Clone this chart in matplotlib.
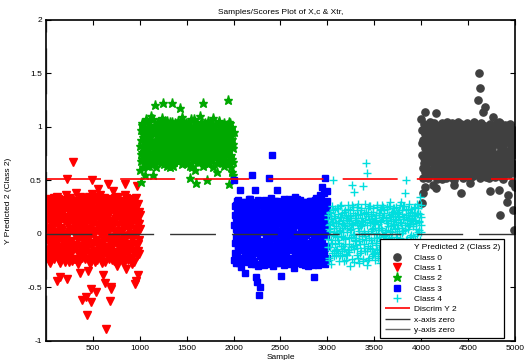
import numpy as np
import matplotlib
matplotlib.use("Agg")
import matplotlib.pyplot as plt
from matplotlib.lines import Line2D

plt.rcParams['font.family'] = ['Liberation Sans', 'DejaVu Sans']

# Predicted Y values per class.
# y_cN: one value every 5 samples (with the outliers), y_cN_b: the dense core in between
start_c0, start_c1, start_c2, start_c3, start_c4 = 4000, 0, 1000, 2000, 3000
step = 5

y_c1 = [
    0.12, -0.18, 0.25, 0.03, -0.22, 0.31, -0.08, 0.17, -0.27, 0.06, 0.29, -0.14, 0.21, -0.03, 0.10, -0.20, 0.34, -0.11, 0.01, 0.19,
    -0.06, 0.27, 0.14, -0.44, 0.33, -0.16, 0.08, -0.24, 0.22, -0.02, -0.40, 0.18, -0.12, 0.30, 0.04, -0.19, 0.26, -0.09, 0.13, -0.26,
    0.24, -0.05, 0.36, -0.17, -0.42, 0.51, 0.09, -0.21, 0.28, 0.02, -0.13, 0.32, -0.07, 0.15, -0.25, 0.20, 0.05, -0.15, 0.67, 0.11,
    -0.10, 0.26, -0.23, 0.18, 0.38, -0.04, 0.12, -0.28, 0.30, 0.07, -0.18, 0.23, -0.36, 0.00, 0.34, -0.12, -0.62, 0.16, -0.06, 0.27,
    0.21, -0.20, 0.08, 0.33, -0.11, -0.59, 0.25, -0.76, -0.35, 0.14, -0.02, 0.29, -0.24, 0.05, 0.19, -0.64, -0.51, 0.37, 0.50, -0.08,
    0.10, -0.16, 0.31, -0.26, 0.22, 0.03, -0.54, 0.17, -0.09, 0.35, 0.42, -0.21, 0.06, 0.26, -0.13, 0.13, -0.01, 0.28, -0.27, 0.20,
    -0.38, 0.24, -0.07, 0.16, -0.19, 0.32, -0.46, -0.89, 0.09, -0.14, 0.27, 0.01, 0.47, -0.23, 0.19, -0.04, -0.63, -0.51, -0.50, 0.12,
    0.29, -0.12, 0.40, 0.07, -0.25, 0.21, -0.03, 0.34, -0.17, 0.14, -0.30, 0.25, 0.02, -0.10, 0.31, -0.21, 0.18, -0.06, 0.23, -0.15,
    -0.20, 0.15, 0.30, -0.08, 0.22, -0.27, 0.06, 0.36, 0.47, -0.14, 0.11, -0.33, 0.26, -0.02, 0.18, -0.18, 0.33, 0.04, -0.11, 0.20,
    0.08, -0.22, 0.27, -0.05, 0.19, -0.16, 0.32, 0.00, -0.26, 0.13, -0.47, 0.24, -0.44, 0.10, 0.45, -0.09, -0.38, 0.21, -0.19, 0.05,
]
y_c1_b = [
    0.05, 0.28, -0.15, 0.20, -0.04, 0.13, -0.25, 0.33, 0.00, -0.10, 0.24, 0.09, -0.19, 0.16, -0.01, 0.30, -0.23, 0.07, 0.26, -0.13,
    0.18, -0.09, 0.35, -0.20, 0.02, 0.23, -0.12, 0.11, -0.27, 0.29, 0.06, -0.05, 0.20, -0.22, 0.15, 0.32, -0.15, 0.00, 0.25, -0.03,
    -0.21, 0.16, -0.02, 0.30, -0.12, 0.08, 0.22, -0.26, 0.13, 0.34, -0.08, 0.19, 0.04, -0.18, 0.27, -0.10, 0.11, 0.29, -0.23, 0.01,
    0.26, 0.04, -0.14, 0.21, -0.25, 0.10, 0.31, -0.06, 0.17, -0.20, 0.02, 0.35, -0.11, 0.24, -0.03, 0.08, -0.22, 0.28, 0.13, -0.16,
    -0.07, 0.31, 0.12, -0.23, 0.18, 0.02, -0.14, 0.27, -0.05, 0.22, 0.35, -0.18, 0.10, -0.28, 0.24, 0.00, 0.32, -0.10, 0.15, -0.21,
    0.23, 0.00, -0.19, 0.14, 0.33, -0.06, 0.19, -0.24, 0.08, -0.12, 0.28, 0.03, -0.17, 0.21, 0.36, -0.08, 0.12, -0.22, 0.05, 0.30,
    0.07, -0.16, 0.20, 0.34, -0.02, -0.26, 0.15, 0.03, -0.12, 0.28, -0.20, 0.10, 0.22, -0.07, 0.33, -0.17, 0.06, 0.25, -0.09, -0.24,
    -0.18, 0.09, 0.22, -0.08, 0.31, 0.01, -0.20, 0.14, 0.27, -0.05, 0.18, -0.27, 0.08, 0.35, -0.13, 0.03, 0.24, -0.22, 0.12, 0.29,
    0.12, -0.25, 0.03, 0.19, -0.11, 0.28, -0.03, 0.16, -0.19, 0.23, 0.34, -0.09, 0.07, -0.24, 0.14, 0.30, -0.14, 0.21, -0.01, 0.26,
    -0.12, 0.20, -0.28, 0.11, 0.30, -0.04, 0.17, -0.19, 0.05, 0.25, -0.10, 0.34, -0.21, 0.15, 0.02, -0.16, 0.28, 0.09, -0.06, 0.18,
]

y_c2 = [
    0.60, 0.88, 0.49, 0.75, 1.02, 0.70, 0.93, 0.81, 0.66, 0.98, 0.55, 0.86, 1.07, 0.73, 0.90, 0.64, 0.96, 0.79, 1.05, 0.84,
    0.92, 0.71, 0.99, 0.83, 1.10, 0.67, 0.87, 0.77, 0.55, 1.01, 0.74, 0.94, 1.21, 0.80, 0.69, 0.97, 0.85, 1.04, 0.72, 0.89,
    0.78, 1.03, 0.68, 0.91, 0.84, 0.99, 0.73, 1.08, 0.86, 1.22, 0.65, 0.95, 0.80, 1.01, 0.70, 0.88, 0.76, 0.93, 1.06, 0.82,
    0.95, 0.74, 0.87, 1.00, 0.63, 0.90, 0.79, 1.05, 0.71, 1.22, 0.84, 0.97, 0.67, 0.92, 0.86, 0.77, 1.03, 0.86, 0.73, 0.98,
    0.83, 1.06, 0.72, 0.94, 0.80, 0.89, 1.18, 0.69, 0.96, 0.76, 1.09, 0.85, 0.66, 0.99, 0.78, 0.91, 0.74, 1.04, 0.87, 0.81,
    0.70, 0.97, 0.86, 1.02, 0.75, 0.92, 0.64, 0.52, 1.07, 0.82, 0.89, 0.73, 1.00, 0.79, 0.94, 0.68, 0.84, 1.05, 0.60, 0.48,
    0.91, 0.77, 1.03, 0.85, 0.71, 0.98, 0.80, 1.10, 0.67, 0.93, 0.88, 0.75, 1.01, 0.83, 1.22, 0.72, 0.96, 0.86, 0.69, 1.04,
    0.79, 0.94, 0.50, 0.87, 1.06, 0.74, 0.99, 0.82, 0.66, 0.90, 0.78, 1.03, 0.85, 0.70, 0.95, 0.81, 1.08, 0.73, 0.92, 0.88,
    0.97, 0.72, 0.89, 1.02, 0.58, 0.84, 0.76, 0.95, 0.68, 1.05, 0.80, 0.91, 0.74, 1.00, 0.86, 0.71, 0.98, 0.83, 0.64, 0.93,
    0.85, 1.01, 0.75, 0.92, 0.68, 0.97, 0.82, 1.25, 0.78, 0.47, 0.90, 0.72, 1.04, 0.63, 0.87, 0.58, 0.94, 0.70, 0.55, 0.80,
]
y_c2_b = [
    0.82, 0.97, 0.68, 1.04, 0.77, 0.91, 0.63, 0.86, 1.00, 0.72, 0.94, 0.80, 0.66, 1.06, 0.75, 0.89, 0.70, 0.99, 0.83, 0.64,
    0.74, 1.02, 0.88, 0.65, 0.96, 0.81, 0.70, 1.07, 0.85, 0.93, 0.68, 0.79, 1.00, 0.87, 0.63, 0.92, 0.76, 1.05, 0.82, 0.98,
    0.95, 0.71, 0.84, 1.00, 0.66, 0.90, 0.78, 1.03, 0.74, 0.88, 0.97, 0.69, 0.83, 1.06, 0.77, 0.92, 0.64, 0.86, 1.01, 0.73,
    0.80, 0.93, 0.67, 1.05, 0.85, 0.72, 0.98, 0.78, 0.90, 0.64, 1.02, 0.82, 0.75, 0.96, 0.69, 1.04, 0.87, 0.71, 0.94, 0.83,
    0.99, 0.76, 0.91, 0.68, 1.03, 0.84, 0.73, 0.95, 0.65, 0.88, 0.79, 1.06, 0.93, 0.70, 0.86, 1.01, 0.67, 0.90, 0.77, 1.00,
    0.87, 0.66, 1.04, 0.79, 0.94, 0.71, 0.89, 1.00, 0.76, 0.85, 0.63, 0.97, 0.82, 0.92, 0.74, 1.07, 0.80, 0.69, 0.95, 0.86,
    0.73, 0.98, 0.84, 0.67, 1.01, 0.89, 0.76, 0.94, 0.81, 1.05, 0.70, 0.87, 0.96, 0.64, 0.90, 0.78, 1.03, 0.83, 0.92, 0.68,
    0.96, 0.82, 0.71, 1.00, 0.88, 0.65, 0.93, 0.77, 1.04, 0.84, 0.92, 0.69, 0.99, 0.75, 0.87, 0.63, 1.02, 0.80, 0.94, 0.72,
    0.84, 1.03, 0.78, 0.91, 0.66, 0.97, 0.86, 0.73, 1.06, 0.81, 0.69, 0.95, 0.88, 0.76, 1.01, 0.90, 0.67, 0.85, 1.04, 0.79,
    0.91, 0.69, 0.96, 0.83, 1.02, 0.76, 0.88, 0.65, 0.93, 0.80, 1.05, 0.72, 0.86, 0.98, 0.74, 0.89, 1.00, 0.67, 0.84, 0.95,
]

y_c3 = [
    0.50, -0.24, 0.18, -0.08, 0.27, 0.05, -0.19, 0.31, -0.12, 0.12, -0.27, 0.22, -0.03, 0.41, 0.09, -0.31, 0.25, -0.15, 0.02, 0.30,
    -0.06, 0.20, -0.22, 0.14, -0.36, 0.28, 0.01, -0.17, 0.24, -0.09, 0.16, -0.26, 0.33, 0.07, -0.13, 0.21, -0.02, 0.29, 0.55, -0.20,
    0.17, -0.11, 0.26, 0.03, -0.28, 0.41, 0.10, -0.40, 0.23, -0.05, -0.45, 0.32, -0.18, 0.13, -0.57, 0.06, -0.50, 0.27, -0.14, 0.19,
    -0.23, 0.09, 0.30, -0.07, 0.18, -0.29, 0.24, 0.04, -0.16, 0.20, 0.15, -0.21, 0.28, -0.01, 0.52, 0.11, -0.25, 0.21, -0.10, 0.34,
    0.07, -0.19, 0.74, 0.12, -0.30, 0.20, -0.04, 0.31, -0.14, 0.16, -0.22, 0.03, 0.41, -0.09, 0.26, -0.27, 0.14, -0.03, 0.22, -0.17,
    0.28, -0.39, 0.10, -0.12, 0.19, 0.02, -0.24, 0.33, -0.06, 0.15, -0.20, 0.25, 0.05, -0.28, 0.17, -0.10, 0.30, -0.01, 0.13, -0.23,
    -0.08, 0.21, -0.26, 0.09, 0.29, -0.15, 0.04, 0.23, -0.32, 0.12, -0.05, 0.35, -0.19, 0.18, 0.00, -0.24, 0.26, 0.08, -0.13, 0.20,
    0.16, -0.21, 0.32, -0.09, 0.07, -0.28, 0.22, 0.11, -0.16, 0.27, -0.02, 0.18, -0.25, 0.05, 0.30, -0.11, 0.14, -0.30, 0.24, 0.01,
    -0.14, 0.25, 0.06, -0.23, 0.19, 0.31, -0.07, 0.13, -0.29, 0.22, -0.40, 0.09, 0.28, -0.18, 0.16, -0.04, 0.34, -0.12, 0.20, 0.03,
    0.23, -0.16, 0.12, 0.36, -0.06, 0.29, -0.26, 0.17, 0.44, 0.04, -0.20, 0.26, 0.10, 0.38, -0.13, 0.52, 0.19, -0.02, 0.31, -0.22,
]
y_c3_b = [
    0.08, -0.18, 0.26, -0.03, 0.15, -0.27, 0.21, 0.01, -0.11, 0.32, -0.06, 0.18, -0.22, 0.10, 0.28, -0.14, 0.04, 0.23, -0.09, -0.25,
    0.24, 0.03, -0.13, 0.30, -0.20, 0.11, -0.04, 0.26, 0.06, -0.24, 0.19, -0.10, 0.09, 0.33, -0.17, 0.13, -0.28, 0.22, 0.00, -0.07,
    -0.16, 0.22, 0.08, -0.25, 0.16, -0.02, 0.30, -0.12, 0.05, 0.21, -0.30, 0.12, 0.27, -0.08, 0.19, -0.21, 0.02, 0.31, -0.15, 0.10,
    0.14, -0.26, 0.02, 0.23, -0.10, 0.32, -0.19, 0.08, 0.26, -0.04, -0.28, 0.17, 0.05, -0.14, 0.29, -0.07, 0.12, -0.22, 0.25, 0.00,
    -0.11, 0.17, -0.24, 0.29, 0.05, -0.16, 0.12, -0.02, 0.24, -0.27, 0.09, 0.31, -0.13, 0.20, -0.06, 0.03, -0.21, 0.27, -0.08, 0.11,
    0.21, -0.05, 0.14, -0.20, 0.27, 0.07, -0.29, 0.19, -0.11, 0.04, 0.30, -0.16, 0.11, -0.02, 0.24, -0.23, 0.08, 0.33, -0.14, 0.16,
    0.02, -0.22, 0.28, 0.14, -0.10, 0.06, -0.28, 0.31, -0.03, 0.19, -0.18, 0.25, 0.09, -0.27, 0.13, 0.33, -0.07, -0.20, 0.22, -0.12,
    -0.24, 0.12, 0.04, 0.26, -0.15, 0.20, -0.05, -0.20, 0.30, 0.08, -0.12, 0.23, -0.29, 0.15, -0.01, 0.21, -0.18, 0.07, 0.29, -0.09,
    0.18, -0.08, 0.31, -0.19, 0.01, 0.13, -0.26, 0.24, 0.06, -0.14, 0.20, -0.03, 0.32, -0.22, 0.09, 0.26, -0.10, 0.03, -0.29, 0.14,
    -0.03, 0.27, -0.21, 0.15, 0.06, -0.12, 0.33, -0.07, 0.20, -0.25, 0.11, -0.16, 0.30, 0.00, -0.28, 0.17, 0.07, -0.11, 0.24, 0.40,
]

y_c4 = [
    -0.05, 0.14, -0.22, 0.08, 0.20, -0.12, 0.03, 0.17, -0.28, 0.11, -0.08, 0.22, 0.50, -0.16, 0.06, 0.15, -0.02, -0.20, 0.10, 0.24,
    0.01, -0.18, 0.19, -0.06, 0.12, -0.25, 0.26, 0.04, -0.11, 0.16, -0.21, 0.09, 0.02, -0.03, 0.21, -0.14, 0.07, -0.04, -0.09, 0.18,
    -0.24, 0.13, 0.02, -0.15, 0.23, -0.04, 0.10, -0.30, 0.17, 0.05, -0.12, 0.27, 0.46, 0.08, -0.01, 0.20, 0.39, -0.26, 0.11, -0.07,
    0.15, -0.10, 0.25, -0.20, 0.06, 0.18, -0.27, 0.00, 0.08, -0.09, 0.12, -0.16, 0.22, -0.05, 0.09, -0.23, 0.45, 0.03, -0.13, 0.28,
    -0.02, 0.19, 0.66, 0.57, -0.29, 0.24, 0.01, -0.11, 0.14, -0.22, 0.10, 0.26, -0.06, 0.17, -0.14, 0.05, 0.21, -0.19, 0.12, -0.04,
    0.09, -0.24, 0.18, -0.08, 0.13, 0.27, -0.15, 0.04, -0.21, 0.20, -0.03, 0.11, -0.27, 0.23, 0.06, -0.12, 0.16, -0.01, 0.25, -0.18,
    -0.13, 0.22, 0.02, -0.20, 0.15, -0.06, 0.10, 0.25, -0.25, 0.07, 0.18, -0.10, 0.30, 0.03, -0.16, 0.12, -0.03, 0.21, -0.22, 0.08,
    0.17, -0.07, 0.24, 0.05, -0.19, 0.13, -0.26, 0.20, 0.00, -0.12, 0.16, 0.08, -0.23, 0.22, -0.04, 0.11, 0.30, -0.15, 0.06, 0.19,
    -0.09, 0.14, -0.21, 0.26, 0.04, 0.38, -0.14, 0.18, 0.50, 0.10, -0.05, 0.23, -0.18, 0.07, 0.15, -0.24, 0.20, -0.01, 0.12, -0.11,
    0.21, -0.16, 0.09, -0.02, 0.17, -0.22, 0.13, 0.25, -0.08, 0.05, -0.19, 0.19, 0.02, 0.24, -0.13, 0.11, 0.35, -0.06, 0.16, 0.27,
]
y_c4_b = [
    0.18, -0.12, 0.05, -0.24, 0.21, 0.09, -0.06, 0.14, -0.18, 0.26, -0.01, 0.11, -0.21, 0.17, 0.02, -0.09, 0.23, -0.15, 0.07, -0.03,
    -0.14, 0.10, 0.24, -0.08, 0.03, -0.20, 0.16, -0.02, 0.27, -0.16, 0.06, 0.20, -0.11, 0.13, -0.25, 0.08, 0.22, -0.05, 0.15, -0.19,
    0.06, -0.20, 0.17, 0.27, -0.09, 0.12, -0.17, 0.04, 0.22, -0.03, 0.15, -0.23, 0.09, -0.11, 0.25, 0.00, -0.14, 0.18, -0.06, 0.13,
    -0.04, 0.22, -0.13, 0.10, -0.22, 0.28, 0.03, -0.07, 0.19, -0.18, 0.07, 0.24, -0.02, 0.15, -0.25, 0.11, -0.09, 0.20, 0.01, -0.16,
    0.13, -0.06, 0.21, -0.16, 0.08, -0.24, 0.17, 0.26, -0.04, 0.11, -0.13, 0.19, 0.03, -0.21, 0.14, -0.08, 0.24, 0.06, -0.18, 0.10,
    -0.17, 0.15, 0.01, -0.10, 0.25, -0.04, 0.09, -0.22, 0.18, 0.06, -0.14, 0.22, -0.07, 0.12, -0.19, 0.27, 0.04, -0.11, 0.16, -0.02,
    0.20, -0.01, -0.17, 0.13, 0.04, -0.23, 0.23, -0.08, 0.10, -0.14, 0.26, -0.04, 0.16, -0.20, 0.07, 0.19, -0.12, 0.02, 0.24, -0.09,
    -0.10, 0.09, 0.19, -0.21, 0.14, -0.03, 0.25, -0.14, 0.06, 0.21, -0.18, 0.03, 0.17, -0.07, 0.27, -0.24, 0.10, 0.01, -0.12, 0.22,
    0.03, 0.26, -0.12, 0.16, -0.19, 0.08, 0.22, -0.06, 0.13, -0.25, 0.18, 0.05, -0.09, 0.28, -0.15, 0.09, -0.03, 0.23, -0.20, 0.14,
    0.15, -0.23, 0.07, 0.24, -0.11, 0.18, -0.05, 0.10, -0.17, 0.28, 0.00, -0.14, 0.20, -0.08, 0.12, 0.04, -0.21, 0.19, 0.08, 0.02,
]

y_c0 = [
    1.07, 0.29, 0.85, 0.62, 0.38, 0.96, 0.71, 0.44, 1.14, 0.55, 0.90, 0.78, 0.66, 1.01, 0.52, 0.83, 0.74, 0.98, 0.59, 0.88,
    0.69, 0.93, 0.57, 0.80, 1.03, 0.46, 0.75, 0.64, 0.99, 0.87, 0.43, 0.72, 1.13, 0.60, 0.91, 0.81, 0.54, 0.95, 0.67, 0.84,
    0.92, 0.63, 0.79, 1.04, 0.51, 0.86, 0.70, 0.97, 0.58, 0.76, 0.89, 0.65, 1.00, 0.53, 0.82, 0.73, 0.94, 0.61, 0.88, 0.68,
    0.77, 0.99, 0.60, 0.85, 0.71, 0.93, 0.55, 0.80, 1.02, 0.66, 0.46, 0.90, 0.74, 0.57, 0.96, 0.83, 0.63, 1.05, 0.70, 0.87,
    0.58, 0.84, 0.97, 0.69, 0.38, 0.91, 0.76, 0.62, 1.01, 0.81, 0.53, 0.94, 0.72, 0.86, 0.65, 0.99, 0.78, 0.56, 1.04, 0.89,
    0.83, 0.67, 0.92, 0.48, 0.79, 1.00, 0.61, 0.87, 0.73, 0.95, 0.54, 0.82, 0.68, 1.03, 0.59, 0.90, 0.75, 0.64, 0.97, 0.71,
    0.90, 1.25, 0.78, 1.50, 0.65, 1.36, 0.72, 0.98, 0.56, 0.60, 1.02, 0.84, 1.14, 0.93, 0.69, 0.81, 1.19, 0.96, 0.53, 0.74,
    0.83, 0.88, 0.63, 0.94, 0.77, 0.52, 0.91, 0.40, 0.85, 1.01, 0.67, 0.80, 0.58, 1.09, 0.73, 0.97, 0.62, 0.89, 0.70, 1.03,
    0.75, 0.99, 0.57, 0.86, 0.68, 1.05, 0.41, 0.92, 0.18, 0.79, 0.64, 1.00, 0.55, 0.83, 0.95, 0.71, 0.88, 0.61, 0.97, 0.76,
    0.87, 0.63, 0.30, 0.94, 0.36, 0.78, 1.02, 0.69, 0.85, 0.59, 0.97, 0.73, 0.48, 0.90, 0.66, 0.82, 0.22, 0.04, 0.75, 0.44,
]
y_c0_b = [
    0.74, 0.97, 0.52, 0.88, 0.66, 1.03, 0.80, 0.58, 0.93, 0.70, 1.00, 0.61, 0.85, 0.76, 0.95, 0.55, 0.82, 1.05, 0.68, 0.91,
    0.86, 0.60, 1.01, 0.73, 0.92, 0.56, 0.83, 1.04, 0.69, 0.78, 0.96, 0.62, 0.89, 0.51, 0.75, 0.98, 0.65, 0.87, 1.02, 0.58,
    0.63, 0.90, 0.75, 0.55, 0.98, 0.68, 1.02, 0.82, 0.60, 0.94, 0.71, 0.52, 0.87, 1.05, 0.64, 0.79, 0.99, 0.57, 0.84, 0.96,
    1.00, 0.66, 0.89, 0.53, 0.81, 1.04, 0.62, 0.94, 0.72, 0.50, 0.86, 1.01, 0.68, 0.91, 0.77, 0.59, 0.97, 0.74, 0.55, 0.92,
    0.71, 0.95, 0.60, 0.85, 1.03, 0.65, 0.78, 0.52, 0.90, 0.98, 0.68, 0.83, 0.57, 1.01, 0.75, 0.62, 0.93, 0.80, 0.69, 0.54,
    0.96, 0.58, 0.81, 1.02, 0.66, 0.89, 0.53, 0.76, 0.99, 0.63, 0.84, 1.05, 0.70, 0.92, 0.56, 0.79, 1.00, 0.87, 0.61, 0.94,
    0.62, 0.86, 0.99, 0.70, 0.52, 0.91, 0.77, 1.04, 0.64, 0.83, 0.95, 0.57, 0.88, 0.73, 1.01, 0.60, 0.79, 0.93, 0.67, 0.85,
    0.92, 0.71, 0.55, 0.98, 0.80, 0.63, 1.03, 0.86, 0.58, 0.76, 0.94, 0.68, 0.89, 1.00, 0.61, 0.84, 0.53, 0.97, 0.74, 0.90,
    0.68, 1.01, 0.84, 0.59, 0.93, 0.72, 0.54, 0.88, 1.04, 0.66, 0.81, 0.96, 0.62, 0.78, 0.51, 0.91, 0.75, 1.02, 0.86, 0.65,
    0.95, 0.77, 0.61, 1.00, 0.70, 0.88, 0.56, 0.93, 0.67, 1.03, 0.82, 0.60, 0.98, 0.74, 0.90, 0.64, 0.85, 0.57, 0.96, 0.79,
]

discrim_y = 0.51
xticks = [500, 1000, 1500, 2000, 2500, 3000, 3500, 4000, 4500, 5000]
yticks = [-1, -0.5, 0, 0.5, 1, 1.5, 2]


def class_xy(start, values, extra):
    x = start + 3 + step * np.arange(len(values))
    xb = start + 5.5 + step * np.arange(len(extra))
    return np.concatenate([x, xb]), np.concatenate([values, extra])


fig = plt.figure(figsize=(5.24, 3.6), dpi=100)
ax = fig.add_axes([0.0878, 0.0528, 0.895, 0.8917])

x0, v0 = class_xy(start_c0, y_c0, y_c0_b)
x1, v1 = class_xy(start_c1, y_c1, y_c1_b)
x2, v2 = class_xy(start_c2, y_c2, y_c2_b)
x3, v3 = class_xy(start_c3, y_c3, y_c3_b)
x4, v4 = class_xy(start_c4, y_c4, y_c4_b)

ax.plot(x0, v0, 'o', color='#404040', ms=5.2, mec='#404040', label='Class 0')
ax.plot(x1, v1, 'v', color='#ff0000', ms=5.8, mec='#ff0000', label='Class 1')
ax.plot(x2, v2, '*', color='#00a800', ms=6.8, mec='#00a800', label='Class 2')
ax.plot(x3, v3, 's', color='#0000ff', ms=4.8, mec='#0000ff', label='Class 3')
ax.plot(x4, v4, '+', color='#00dede', ms=5.5, mew=1.0, label='Class 4')

dash = (0, (33, 11.5))
ax.plot([0, 5000], [discrim_y, discrim_y], color='#ff0000', lw=1.2, linestyle=dash, zorder=5, label='Discrim Y 2')
ax.plot([0, 5000], [0, 0], color='#333333', lw=1.0, linestyle=dash, zorder=5, label='x-axis zero')
ax.plot([0, 0], [-1, 2], color='#666666', lw=1.0, linestyle=dash, zorder=1, label='y-axis zero')

ax.set_xlim(0, 5000)
ax.set_ylim(-1, 2)
ax.set_xticks(xticks)
ax.set_yticks(yticks)
ax.set_yticklabels(['-1', '-0.5', '0', '0.5', '1', '1.5', '2'])
ax.tick_params(direction='in', length=3.5, width=0.8, labelsize=6, top=True, right=True, pad=3)
for s in ax.spines.values():
    s.set_linewidth(1.2)
    s.set_zorder(6)

ax.set_title('Samples/Scores Plot of X,c & Xtr,', fontsize=6, pad=4)
ax.set_xlabel('Sample', fontsize=6)
ax.xaxis.set_label_coords(0.5, -0.04)
ax.set_ylabel('Y Predicted 2 (Class 2)', fontsize=6)
ax.yaxis.set_label_coords(-0.072, 0.436)

handles, labels = ax.get_legend_handles_labels()
title_handle = Line2D([], [], linestyle='none')
leg = ax.legend([title_handle] + handles, ['Y Predicted 2 (Class 2)'] + labels,
                loc='lower right', bbox_to_anchor=(0.977, 0.009), borderaxespad=0,
                fontsize=6, labelspacing=0.3, handlelength=3, handletextpad=0.5,
                fancybox=False, edgecolor='black', framealpha=1, borderpad=0.5)
leg.get_frame().set_linewidth(0.9)
leg.set_zorder(10)

fig.savefig('out.png', dpi=100)
